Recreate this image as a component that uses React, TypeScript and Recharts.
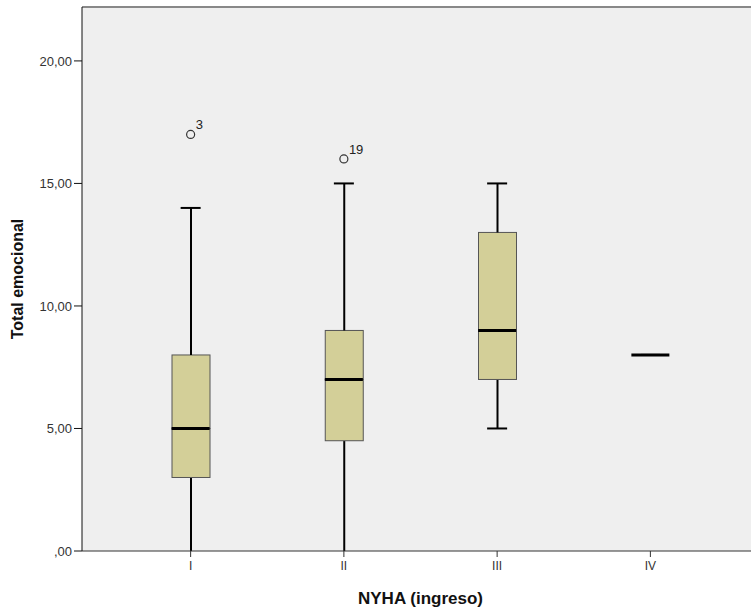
import React from "react";
import {
  ComposedChart,
  Bar,
  Scatter,
  XAxis,
  YAxis,
  CartesianGrid,
  ReferenceLine,
} from "recharts";

// NYHA class box plot data
const categories = ["I", "II", "III", "IV"];
const mins = [0, 0, 5, 8];
const q1s = [3, 4.5, 7, 8];
const medians = [5, 7, 9, 8];
const q3s = [8, 9, 13, 8];
const maxs = [14, 15, 15, 8];
const outlierValues = [17, 16, null, null];
const outlierLabels = ["3", "19", "", ""];
const yTicks = [0, 5, 10, 15, 20];

const data = categories.map((name, i) => ({
  name,
  base: mins[i],
  lowerWhisker: q1s[i] - mins[i],
  lowerBox: medians[i] - q1s[i],
  upperBox: q3s[i] - medians[i],
  upperWhisker: maxs[i] - q3s[i],
  min: mins[i],
  max: maxs[i],
  median: medians[i],
  outlier: outlierValues[i],
  outlierLabel: outlierLabels[i],
}));

const BOX_FILL = "#d3cf98";
const PLOT_BG = "#efefef";
const FONT = "'Liberation Sans', Arial, sans-serif";

const Whisker = (props: any) => {
  const { x, y, width, height } = props;
  if (!height) return <g />;
  const cx = x + width / 2;
  return <line x1={cx} x2={cx} y1={y} y2={y + height} stroke="#000" strokeWidth={2} />;
};

const BoxPart = (props: any) => {
  const { x, y, width, height } = props;
  if (!height) return <g />;
  return (
    <rect x={x} y={y} width={width} height={height} fill={BOX_FILL} stroke="#555" strokeWidth={1} />
  );
};

const Cap = (props: any) => {
  const { cx, cy, payload } = props;
  // the cap at zero sits under the x axis line in the original
  if (payload && payload.min === 0 && props.yAxis && Math.abs(cy - props.yAxis.scale(0)) < 1) return <g />;
  return <line x1={cx - 10} x2={cx + 10} y1={cy} y2={cy} stroke="#000" strokeWidth={2} />;
};

const LowCap = (props: any) => {
  const { payload } = props;
  if (payload && payload.min === 0) return <g />;
  return <Cap {...props} />;
};

const Median = (props: any) => {
  const { cx, cy } = props;
  return <line x1={cx - 19} x2={cx + 19} y1={cy} y2={cy} stroke="#000" strokeWidth={3} />;
};

const Outlier = (props: any) => {
  const { cx, cy, payload } = props;
  if (payload == null || payload.outlier == null) return <g />;
  return (
    <g>
      <circle cx={cx} cy={cy} r={4} fill="none" stroke="#333" strokeWidth={1.2} />
      <text x={cx + 5} y={cy - 5} fontSize={13} fontFamily={FONT} fill="#222">
        {payload.outlierLabel}
      </text>
    </g>
  );
};

const fmt = (v: number) => (v === 0 ? ",00" : v.toFixed(2).replace(".", ","));

export default function App() {
  return (
    <div
      style={{
        position: "fixed",
        left: 0,
        top: 0,
        width: 751,
        height: 613,
        overflow: "hidden",
        background: "#fff",
      }}
    >
      <ComposedChart
        width={770}
        height={613}
        data={data}
        margin={{ top: 7, right: 11, left: 0, bottom: 0 }}
      >
        <CartesianGrid horizontal={false} vertical={false} fill={PLOT_BG} />
        <ReferenceLine y={22.2} stroke="#888" strokeWidth={2} />
        <XAxis
          dataKey="name"
          type="category"
          padding={{ left: 32, right: 32 }}
          height={62}
          stroke="#333"
          tickSize={6}
          tickMargin={4}
          tick={{ fontSize: 12, fontFamily: FONT, fill: "#333" }}
          label={{
            value: "NYHA (ingreso)",
            position: "insideBottom",
            offset: 9,
            style: { fontSize: 17, fontWeight: "bold", fontFamily: FONT, fill: "#111" },
          }}
        />
        <YAxis
          type="number"
          domain={[0, 22.2]}
          ticks={yTicks}
          width={82}
          stroke="#111"
          tickSize={8}
          tickMargin={2}
          tickFormatter={fmt}
          tick={{ fontSize: 13, fontFamily: FONT, fill: "#333" }}
          label={{
            value: "Total emocional",
            angle: -90,
            position: "insideLeft",
            offset: 17,
            style: { fontSize: 16, fontWeight: "bold", fontFamily: FONT, fill: "#111", textAnchor: "middle" },
          }}
        />
        <Bar dataKey="base" stackId="a" barSize={38} fill="none" isAnimationActive={false} />
        <Bar dataKey="lowerWhisker" stackId="a" barSize={38} shape={<Whisker />} isAnimationActive={false} />
        <Bar dataKey="lowerBox" stackId="a" barSize={38} shape={<BoxPart />} isAnimationActive={false} />
        <Bar dataKey="upperBox" stackId="a" barSize={38} shape={<BoxPart />} isAnimationActive={false} />
        <Bar dataKey="upperWhisker" stackId="a" barSize={38} shape={<Whisker />} isAnimationActive={false} />
        <Scatter dataKey="max" shape={<Cap />} isAnimationActive={false} />
        <Scatter dataKey="min" shape={<LowCap />} isAnimationActive={false} />
        <Scatter dataKey="median" shape={<Median />} isAnimationActive={false} />
        <Scatter dataKey="outlier" shape={<Outlier />} isAnimationActive={false} />
      </ComposedChart>
    </div>
  );
}
